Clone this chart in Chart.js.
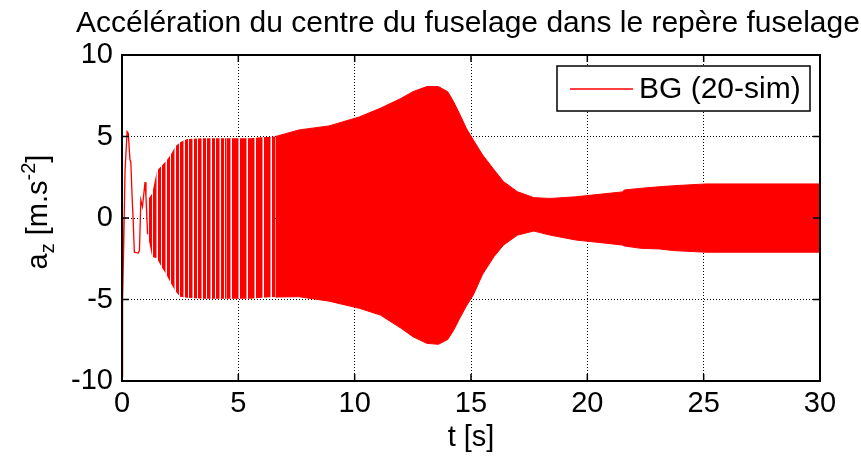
<!DOCTYPE html>
<html lang="fr">
<head>
<meta charset="UTF-8">
<title>Accélération du centre du fuselage</title>
<script src="https://cdn.jsdelivr.net/npm/chart.js@4/dist/chart.umd.min.js"></script>
<style>
  html, body { margin: 0; padding: 0; background: #fff; }
  #wrap { width: 861px; height: 456px; }
</style>
</head>
<body>
<div id="wrap"><canvas id="chart" width="861" height="456"></canvas></div>
<script>
// start-up transient (t < 1.1 s), read point by point
const TRANS_T = [0, 0.01, 0.04, 0.08, 0.13, 0.22, 0.27, 0.34, 0.38, 0.44, 0.48, 0.53, 0.70, 0.75, 0.81, 0.88, 0.99, 1.03, 1.10];
const TRANS_A = [0, -9.75, -5.0, -1.2, 2.9, 5.3, 5.2, 3.6, 3.4, 1.1, -0.1, -2.1, -2.15, -2.0, 1.1, 0.7, 2.2, 1.3, -1.0];

// envelope of the dense oscillation: upper and lower peaks
const ENV_T  = [1.1, 1.3, 1.5, 1.7, 1.9, 2.1, 2.3, 2.5, 2.8, 3.5, 4.5, 5.5, 6.0, 6.6, 7.6, 8.9, 10.2, 11.1, 12.0, 12.5, 13.1, 13.6, 14.0, 14.25, 14.5, 14.8, 15.1, 15.5, 16.0, 16.4, 17.0, 17.7, 18.4, 19.5, 20.5, 21.5, 21.6, 22.3, 23.1, 23.7, 25.1, 30];
const ENV_UP = [1.1, 1.5, 2.9, 3.2, 3.5, 3.9, 4.4, 4.65, 4.85, 4.9, 4.9, 4.9, 4.95, 5.0, 5.4, 5.65, 6.2, 6.73, 7.34, 7.75, 8.06, 8.06, 7.75, 7.14, 6.42, 5.5, 4.79, 3.87, 2.94, 2.23, 1.61, 1.25, 1.2, 1.3, 1.45, 1.6, 1.72, 1.82, 1.92, 1.98, 2.09, 2.09];
const ENV_LO = [-1.0, -2.4, -2.47, -3.0, -3.45, -4.0, -4.5, -4.83, -4.9, -4.95, -4.95, -4.95, -4.9, -4.85, -4.83, -5.1, -5.54, -5.95, -6.77, -7.28, -7.69, -7.75, -7.45, -6.9, -6.2, -5.4, -4.72, -3.45, -2.35, -1.66, -1.05, -0.8, -1.05, -1.35, -1.5, -1.66, -1.72, -1.86, -1.9, -2.0, -2.1, -2.1];
const MID = 10;   // t = 4.5 s: oscillations start to crowd together
const SOLID = 13; // t = 6.6 s: from here on a solid band

const X_TICKS = [0, 5, 10, 15, 20, 25, 30];
const Y_TICKS = [-10, -5, 0, 5, 10];

const TITLE = 'Accélération du centre du fuselage dans le repère fuselage';
const SERIES = 'BG (20-sim)';
const RED = '#ff0000';
const FONT = "'Liberation Sans', Arial, Helvetica, sans-serif";

const pts = (xs, ys, a, b) => xs.slice(a, b).map((x, i) => ({ x, y: ys[a + i] }));

const canvas = document.getElementById('chart');

// vertical stripes, so the sparse oscillations keep their white gaps
// cols: 'r' red, 'p' half red, 'w' white
function stripes(cols) {
  const c = document.createElement('canvas');
  c.width = cols.length; c.height = 1;
  const g = c.getContext('2d');
  [...cols].forEach((k, i) => {
    g.fillStyle = k === 'r' ? RED : k === 'p' ? '#ff8080' : '#fff';
    g.fillRect(i, 0, 1, 1);
  });
  return canvas.getContext('2d').createPattern(c, 'repeat');
}

const line = (data, extra) => Object.assign({
  data, borderColor: RED, borderWidth: 1.3, pointRadius: 0, tension: 0, fill: false,
}, extra);

const n = ENV_T.length;
const datasets = [
  line(pts(TRANS_T, TRANS_A, 0, TRANS_T.length), { label: SERIES }),
  line(pts(ENV_T, ENV_UP, 0, MID + 1), { borderWidth: 0, fill: '+1', backgroundColor: stripes('rrrpwrrrw') }),
  line(pts(ENV_T, ENV_LO, 0, MID + 1), { borderWidth: 0 }),
  line(pts(ENV_T, ENV_UP, MID, SOLID + 1), { borderWidth: 0, fill: '+1', backgroundColor: stripes('rrrrrrpw') }),
  line(pts(ENV_T, ENV_LO, MID, SOLID + 1), { borderWidth: 0 }),
  line(pts(ENV_T, ENV_UP, SOLID, n), { borderWidth: 1, fill: '+1', backgroundColor: RED }),
  line(pts(ENV_T, ENV_LO, SOLID, n), { borderWidth: 1 }),
];

function supText(ctx, parts, x, y) {
  // parts: [text, size, dy]; centred on x
  const w = parts.reduce((s, [t, sz]) => { ctx.font = sz + 'px ' + FONT; return s + ctx.measureText(t).width; }, 0);
  let cx = x - w / 2;
  for (const [t, sz, dy] of parts) {
    ctx.font = sz + 'px ' + FONT;
    ctx.fillText(t, cx, y + dy);
    cx += ctx.measureText(t).width;
  }
}

const decor = {
  id: 'decor',
  afterDraw(chart) {
    const { ctx, chartArea: a, scales: { x, y } } = chart;
    ctx.save();
    ctx.strokeStyle = '#000';
    ctx.fillStyle = '#000';

    // inner ticks, matlab style
    ctx.lineWidth = 1.5;
    ctx.beginPath();
    X_TICKS.forEach(v => {
      const p = x.getPixelForValue(v);
      ctx.moveTo(p, a.bottom); ctx.lineTo(p, a.bottom - 7);
      ctx.moveTo(p, a.top); ctx.lineTo(p, a.top + 7);
    });
    Y_TICKS.forEach(v => {
      const p = y.getPixelForValue(v);
      ctx.moveTo(a.left, p); ctx.lineTo(a.left + 7, p);
      ctx.moveTo(a.right, p); ctx.lineTo(a.right - 7, p);
    });
    ctx.stroke();

    // axes box
    ctx.lineWidth = 2;
    ctx.strokeRect(a.left, a.top, a.right - a.left, a.bottom - a.top);

    // legend
    ctx.fillStyle = '#fff';
    ctx.fillRect(557, 66, 253, 45);
    ctx.lineWidth = 1.5;
    ctx.strokeRect(557, 66, 253, 45);
    ctx.strokeStyle = chart.data.datasets[0].borderColor;
    ctx.beginPath(); ctx.moveTo(570, 89); ctx.lineTo(633, 89); ctx.stroke();
    ctx.fillStyle = '#000';
    ctx.font = '30px ' + FONT;
    ctx.textBaseline = 'middle';
    ctx.textAlign = 'left';
    ctx.fillText(chart.data.datasets[0].label, 639, 90);

    // title and axis labels
    ctx.textBaseline = 'alphabetic';
    ctx.textAlign = 'center';
    ctx.font = '30px ' + FONT;
    ctx.fillText(TITLE, 468, 32);
    ctx.font = '29px ' + FONT;
    ctx.fillText('t [s]', 471, 446);

    ctx.translate(47, 212);
    ctx.rotate(-Math.PI / 2);
    ctx.textAlign = 'left';
    supText(ctx, [['a', 29, 0], ['z', 20, 7], [' [m.s', 29, 0], ['-2', 20, -12], [']', 29, 0]], 0, 0);
    ctx.restore();
  },
};

const tickFont = { family: FONT, size: 29 };

new Chart(canvas, {
  type: 'line',
  data: { datasets },
  plugins: [decor],
  options: {
    responsive: false,
    animation: false,
    events: [],
    layout: { padding: { left: 0, right: 41, top: 55, bottom: 0 } },
    plugins: { legend: { display: false }, tooltip: { enabled: false }, title: { display: false } },
    scales: {
      x: {
        type: 'linear', min: 0, max: 30,
        afterBuildTicks: s => { s.ticks = X_TICKS.map(value => ({ value })); },
        afterFit: s => { s.height = 75; },
        grid: { color: '#000', lineWidth: 1, drawTicks: false },
        border: { display: false, dash: [1, 2] },
        ticks: { color: '#000', font: tickFont, padding: 6, maxRotation: 0 },
      },
      y: {
        type: 'linear', min: -10, max: 10,
        afterBuildTicks: s => { s.ticks = Y_TICKS.map(value => ({ value })); },
        afterFit: s => { s.width = 122; },
        grid: { color: '#000', lineWidth: 1, drawTicks: false },
        border: { display: false, dash: [1, 2] },
        ticks: { color: '#000', font: tickFont, padding: 9 },
      },
    },
  },
});
</script>
</body>
</html>
